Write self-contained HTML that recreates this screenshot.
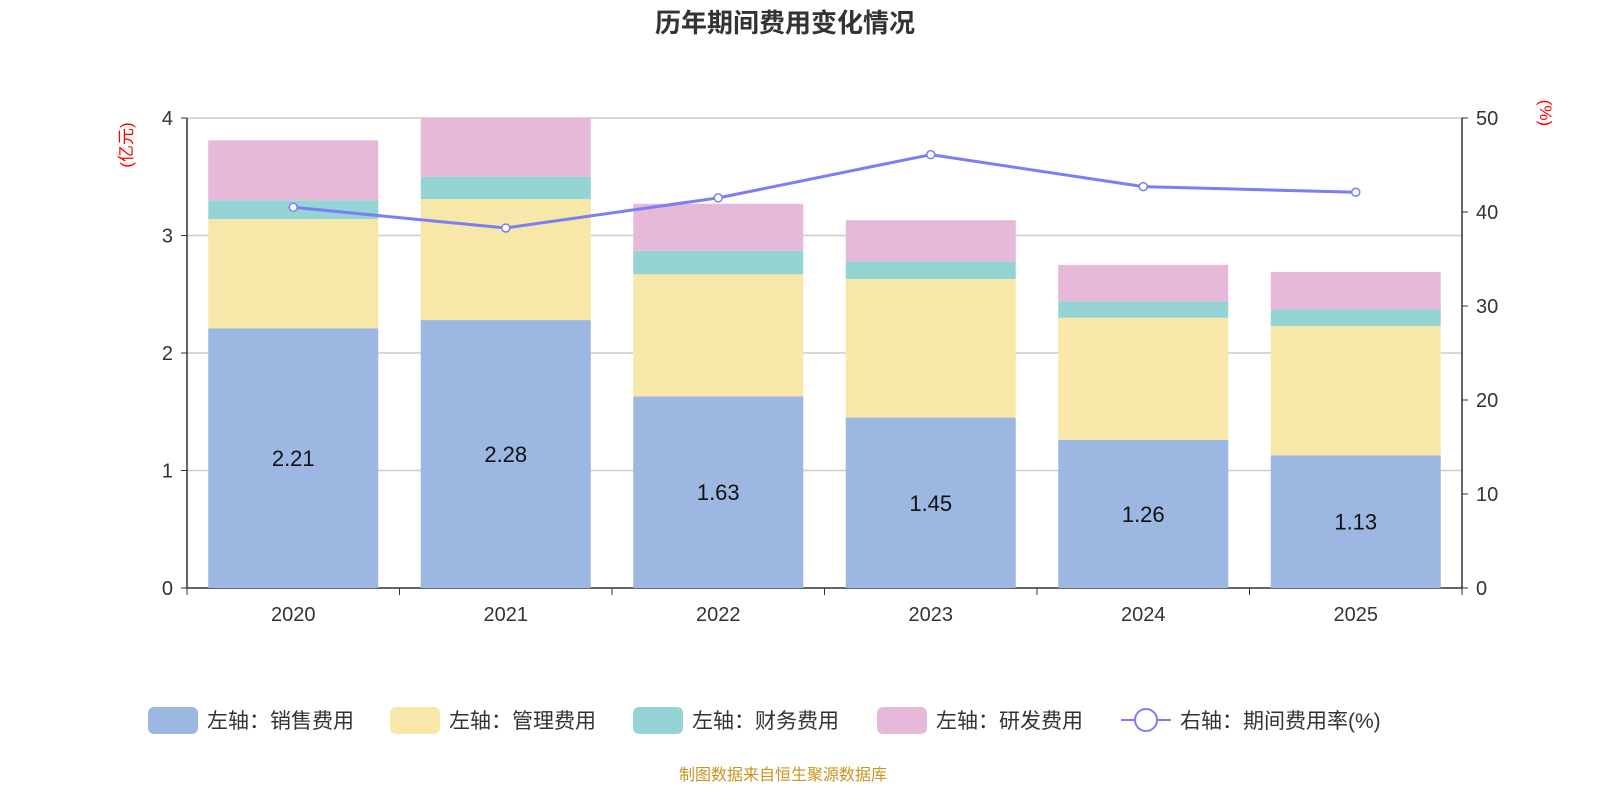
<!DOCTYPE html>
<html><head><meta charset="utf-8"><style>
html,body{margin:0;padding:0;background:#fff;overflow:hidden;width:1600px;height:800px;font-family:"Liberation Sans","Noto Sans CJK SC",sans-serif}
svg{display:block}
svg text{font-family:"Liberation Sans","Noto Sans CJK SC",sans-serif}
</style></head><body>
<svg id="c" width="1600" height="800"></svg>
<script>
const categories=["2020","2021","2022","2023","2024","2025"];
const sales=[2.21,2.28,1.63,1.45,1.26,1.13];
const mgmt=[0.93,1.03,1.04,1.18,1.04,1.10];
const fin=[0.16,0.19,0.20,0.15,0.14,0.14];
const rnd=[0.51,0.50,0.40,0.35,0.31,0.32];
const rate=[40.5,38.3,41.5,46.1,42.7,42.1];
const leftTicks=[0,1,2,3,4];
const rightTicks=[0,10,20,30,40,50];
const NS="http://www.w3.org/2000/svg";
const svg=document.getElementById('c');
function el(t,a,txt){const e=document.createElementNS(NS,t);for(const k in a)e.setAttribute(k,a[k]);if(txt!=null)e.textContent=txt;svg.appendChild(e);return e;}
const X0=187,X1=1462,Y0=588,Y1=118;
const band=(X1-X0)/categories.length;
const yL=v=>Y0-(v/4)*(Y0-Y1);
const yR=v=>Y0-(v/50)*(Y0-Y1);
const xC=i=>X0+band*(i+0.5);
let t=el('text',{x:785,y:32,'text-anchor':'middle','font-size':26,'font-weight':'bold',fill:'#333'},'历年期间费用变化情况');

leftTicks.forEach(v=>{
 if(v>0){const g=el('line',{x1:X0,x2:X1,y1:yL(v),y2:yL(v),stroke:'#ccc','stroke-width':1.5});
 }
 const l=el('text',{x:X0-14,y:yL(v)+7,'text-anchor':'end','font-size':20,fill:'#333'},v);
 
 el('line',{x1:X0-6,x2:X0,y1:yL(v),y2:yL(v),stroke:'#333'});
});
rightTicks.forEach(v=>{
 const l=el('text',{x:X1+14,y:yR(v)+7,'text-anchor':'start','font-size':20,fill:'#333'},v);
 
 el('line',{x1:X1,x2:X1+6,y1:yR(v),y2:yR(v),stroke:'#333'});
});
el('line',{x1:X0,x2:X0,y1:Y1,y2:Y0,stroke:'#333','stroke-width':1.5});
el('line',{x1:X1,x2:X1,y1:Y1,y2:Y0,stroke:'#333','stroke-width':1.5});
el('line',{x1:X0,x2:X1,y1:Y0,y2:Y0,stroke:'#333','stroke-width':1.5});
let u=el('text',{x:132,y:145,'text-anchor':'middle','font-size':17,fill:'red',transform:'rotate(-90 132 145)'},'(亿元)');

u=el('text',{x:1540,y:113,'text-anchor':'middle','font-size':17,fill:'red',transform:'rotate(90 1540 113)'},'(%)');

const series=[[sales,'#9cb7e1','sales'],[mgmt,'#f7e7a9','mgmt'],[fin,'#95d4d4','finance'],[rnd,'#e6b9d8','rnd']];
categories.forEach((c,i)=>{
 el('line',{x1:X0+band*i,x2:X0+band*i,y1:Y0,y2:Y0+7,stroke:'#333'});
 const xl=el('text',{x:xC(i),y:621,'text-anchor':'middle','font-size':20,fill:'#333'},c);
 
 let base=0;
 series.forEach(([arr,col,nm])=>{
  const r=el('rect',{x:xC(i)-85,y:yL(base+arr[i]),width:170,height:yL(base)-yL(base+arr[i]),fill:col});
  
  base+=arr[i];
 });
 const lb=el('text',{x:xC(i),y:(yL(0)+yL(sales[i]))/2+8,'text-anchor':'middle','font-size':22,fill:'#111'},sales[i].toFixed(2));
 
});
el('line',{x1:X1,x2:X1,y1:Y0,y2:Y0+7,stroke:'#333'});
const pl=el('polyline',{points:rate.map((v,i)=>xC(i)+','+yR(v)).join(' '),fill:'none',stroke:'#7b7ef5','stroke-width':3});

rate.forEach((v,i)=>{const p=el('circle',{cx:xC(i),cy:yR(v),r:4,fill:'#fff',stroke:'#7b7ef5','stroke-width':1.5});
 });
const leg=[[148,'#9cb7e1','左轴：销售费用'],[390,'#f7e7a9','左轴：管理费用'],[633,'#95d4d4','左轴：财务费用'],[877,'#e6b9d8','左轴：研发费用']];
leg.forEach(([x,col,txt])=>{
 const r=el('rect',{x:x,y:707,width:50,height:27,rx:6,fill:col});
 
 const l=el('text',{x:x+59,y:728,'font-size':21,fill:'#333'},txt);
 
});
el('line',{x1:1121,x2:1171,y1:720,y2:720,stroke:'#7b7ef5','stroke-width':2});
const lc=el('circle',{cx:1146,cy:720,r:11,fill:'#fff',stroke:'#7b7ef5','stroke-width':2});

let l2=el('text',{x:1180,y:728,'font-size':21,fill:'#333'},'右轴：期间费用率(%)');

let s=el('text',{x:783,y:780,'text-anchor':'middle','font-size':16,fill:'#c8951e'},'制图数据来自恒生聚源数据库');

</script>
</body></html>
